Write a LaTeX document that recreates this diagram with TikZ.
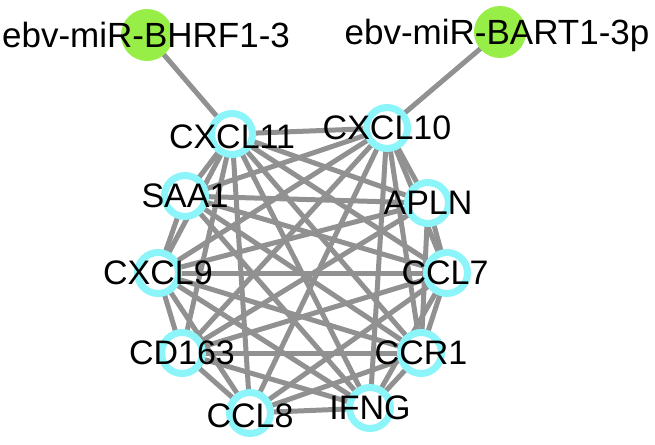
\documentclass[tikz,border=0pt]{standalone}
\usepackage{fontspec}
\setmainfont{Liberation Sans}
\usetikzlibrary{backgrounds}
\definecolor{ringc}{RGB}{140,245,250}
\definecolor{mirc}{RGB}{150,238,70}
\definecolor{edgec}{RGB}{145,145,145}
\begin{document}
\begin{tikzpicture}[x=1pt,y=-1pt,
  gene/.style={circle,draw=ringc,line width=7pt,fill=white,minimum size=41pt,inner sep=0pt},
  mir/.style={circle,fill=mirc,minimum size=52pt,inner sep=0pt},
  lab/.style={font=\fontsize{34}{34}\selectfont,text=black,inner sep=0pt,text depth=0pt},
  miRlab/.style={font=\fontsize{35}{35}\selectfont,text=black,inner sep=0pt,text depth=0pt},
  edge/.style={draw=edgec,line width=5pt}]
\useasboundingbox (0,0) rectangle (655,444);
\node[mir] (bhrf) at (147,35) {};
\node[mir] (bart) at (500,32) {};
\node[gene] (c11) at (232,134) {};
\node[gene] (c10) at (387,128) {};
\node[gene] (saa) at (185,196) {};
\node[gene] (apln) at (428,203) {};
\node[gene] (c9) at (158,273) {};
\node[gene] (ccl7) at (447,273) {};
\node[gene] (cd163) at (182,353) {};
\node[gene] (ccr1) at (421,353) {};
\node[gene] (ccl8) at (250,413) {};
\node[gene] (ifng) at (370,408) {};
\begin{scope}[on background layer]
\draw[edge] (bhrf.center) -- (c11.center);
\draw[edge] (bart.center) -- (c10.center);
\foreach \a/\b in {c11/c10,c11/saa,c11/c9,c11/cd163,c11/ccl8,c11/ifng,c11/ccr1,c11/ccl7,c11/apln,
  c10/saa,c10/c9,c10/cd163,c10/ccl8,c10/ifng,c10/ccr1,c10/ccl7,c10/apln,
  saa/apln,saa/c9,saa/ccr1,saa/ifng,saa/ccl7,
  apln/ccl7,apln/ccr1,apln/cd163,apln/c9,
  c9/ccl7,c9/cd163,c9/ccl8,c9/ccr1,c9/ifng,
  ccl7/ccr1,ccl7/ifng,ccl7/ccl8,ccl7/cd163,
  cd163/ccr1,cd163/ccl8,cd163/ifng,
  ccr1/ifng,ccr1/ccl8,ccl8/ifng}
  \draw[edge] (\a.center) -- (\b.center);
\end{scope}
\node[miRlab] (bhrfl) at ([xshift=-1]bhrf) {ebv-miR-BHRF1-3};
\node[miRlab] (bartl) at ([xshift=-3]bart) {ebv-miR-BART1-3p};
\node[lab] (c11l) at ([yshift=-3]c11) {CXCL11};
\node[lab] (c10l) at (c10) {CXCL10};
\node[lab] (saal) at (saa) {SAA1};
\node[lab] (aplnl) at (apln) {APLN};
\node[lab] (c9l) at (c9) {CXCL9};
\node[lab] (ccl7l) at ([xshift=-2]ccl7) {CCL7};
\node[lab] (cd163l) at (cd163) {CD163};
\node[lab] (ccr1l) at (ccr1) {CCR1};
\node[lab] (ccl8l) at ([yshift=-3]ccl8) {CCL8};
\node[lab] (ifngl) at (ifng) {IFNG};
\end{tikzpicture}
\end{document}
